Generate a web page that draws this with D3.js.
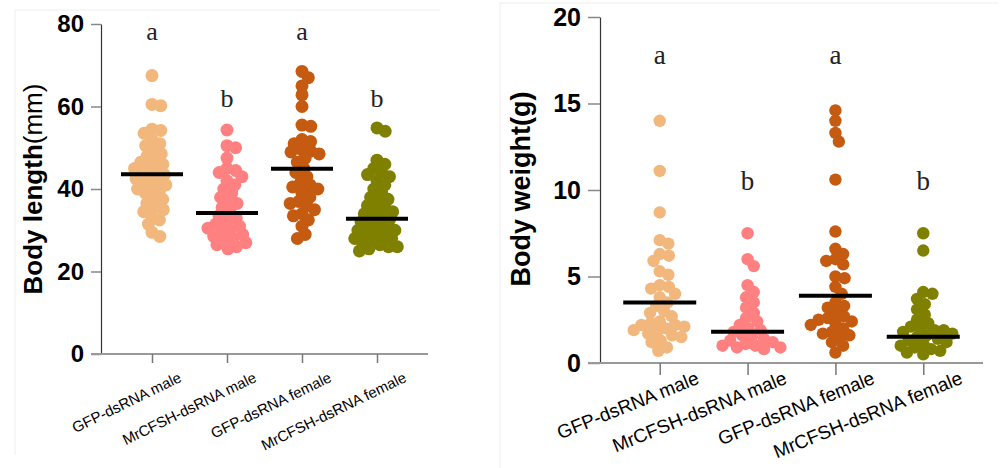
<!DOCTYPE html>
<html>
<head>
<meta charset="utf-8">
<script src="https://cdn.jsdelivr.net/npm/d3@7"></script>
<style>
  body { margin: 0; background: #fff; }
  svg { display: block; }
</style>
</head>
<body>
<svg id="chart" width="1000" height="468"></svg>
<script>
"use strict";

// groups and colours
var groups = ["GFP-dsRNA male", "MrCFSH-dsRNA male", "GFP-dsRNA female", "MrCFSH-dsRNA female"];
var groupColors = ["#F1B77C", "#FF8080", "#C55A11", "#808000"];

// body length (mm)
var lenGfpMale = [67.5, 60.5, 60.2, 54.5, 54.2, 53.5, 52, 51, 50.5, 49.5, 48.5, 48, 47, 46.5, 46, 45.5, 45, 44.5, 44, 43.5, 43, 42.5, 42, 41.5, 41, 40.5, 40, 39.5, 39, 38, 37.5, 36.5, 35.5, 35, 34.5, 33.5, 32.5, 31.5, 29.5, 28.5];
var lenMrMale = [54.3, 50.5, 50, 47.5, 45, 44.5, 44, 43, 42, 41, 40, 39, 38, 37, 36.5, 35.5, 34.5, 33.5, 33, 32, 31.5, 31, 30.5, 30, 29.5, 29, 28.5, 28, 27.5, 27, 26.5, 26, 25.5];
var lenGfpFemale = [68.5, 67, 65, 62.8, 60, 55.5, 55.2, 52, 51.5, 51, 49.5, 49.2, 49, 48.5, 47.5, 46.5, 45, 44, 43, 41.5, 41, 40.5, 40, 39, 38, 37, 36.5, 36, 35, 34, 33.5, 32.5, 31, 29, 28];
var lenMrFemale = [54.8, 54, 47, 46, 45, 44, 43.5, 43, 42, 41, 40, 39, 38, 37.5, 37, 36, 35.5, 35, 34.5, 34, 33.5, 33, 32.5, 32, 31.5, 31, 30.5, 30, 30, 29.5, 29, 28.5, 28, 28, 27.5, 27, 26.5, 26, 26, 25.5, 25];
var lenMeans = [43.6, 34.2, 44.9, 32.8];
var lenLetters = ["a", "b", "a", "b"];
var lenTicks = [0, 20, 40, 60, 80];

// body weight (g)
var wGfpMale = [14, 11.1, 8.7, 7.1, 6.9, 6.3, 6.2, 5.9, 5.3, 5.1, 4.5, 4.4, 4.3, 4.0, 3.8, 3.5, 3.3, 3.0, 2.9, 2.7, 2.4, 2.3, 2.2, 2.2, 2.1, 2.0, 1.9, 1.8, 1.7, 1.6, 1.5, 1.3, 1.2, 0.9, 0.7];
var wMrMale = [7.5, 6.0, 5.6, 4.5, 4.1, 3.8, 3.5, 3.2, 2.9, 2.6, 2.4, 2.2, 2.0, 1.9, 1.8, 1.6, 1.5, 1.4, 1.3, 1.2, 1.1, 1.0, 1.0, 0.9, 0.9, 0.8];
var wGfpFemale = [14.6, 14.0, 13.3, 12.8, 10.6, 7.6, 6.6, 6.3, 6.0, 5.9, 5.7, 5.0, 4.9, 4.4, 4.0, 3.5, 3.3, 3.2, 2.9, 2.7, 2.6, 2.5, 2.4, 2.3, 2.2, 2.0, 1.8, 1.7, 1.6, 1.5, 1.2, 1.0, 0.6];
var wMrFemale = [7.5, 6.5, 4.1, 4.0, 3.7, 3.4, 3.1, 2.8, 2.5, 2.3, 2.1, 2.0, 1.9, 1.9, 1.8, 1.7, 1.6, 1.5, 1.4, 1.3, 1.2, 1.1, 1.0, 0.9, 0.8, 0.7, 0.6, 0.5];
var wMeans = [3.49, 1.81, 3.89, 1.52];
var wLetters = ["a", "b", "a", "b"];
var wTicks = [0, 5, 10, 15, 20];

var svg = d3.select("#chart");

// faint frame lines of the two screenshots
svg.append("path").attr("d", "M15,455V10H440").attr("fill", "none").attr("stroke", "#eeeeee");
svg.append("path").attr("d", "M500,468V3H998").attr("fill", "none").attr("stroke", "#eeeeee");

// simple beeswarm: place each dot as close to the centre as possible
function swarm(values, y, d) {
  var pts = values.map(function(v) { return { v: v, y: y(v), x: 0 }; })
    .sort(function(a, b) { return a.y - b.y; });
  var placed = [];
  pts.forEach(function(p) {
    var cands = [0];
    placed.forEach(function(q) {
      var dy = Math.abs(q.y - p.y);
      if (dy < d) {
        var dx = Math.sqrt(d * d - dy * dy);
        cands.push(q.x + dx, q.x - dx);
      }
    });
    cands.sort(function(a, b) { return Math.abs(a) - Math.abs(b); });
    for (var i = 0; i < cands.length; i++) {
      var ok = placed.every(function(q) {
        var dx = q.x - cands[i], dy = q.y - p.y;
        return dx * dx + dy * dy >= d * d - 0.01;
      });
      if (ok) { p.x = cands[i]; break; }
    }
    placed.push(p);
  });
  return pts;
}

function drawPanel(cfg) {
  var g = svg.append("g");

  var x = d3.scalePoint().domain(groups).range([cfg.left, cfg.right]).padding(0.68);
  var y = d3.scaleLinear().domain(cfg.domain).range([cfg.bottom, cfg.top]);

  // dots
  cfg.series.forEach(function(vals, i) {
    var pts = swarm(vals, y, cfg.r * 2 * cfg.pack);
    g.append("g")
      .selectAll("circle")
      .data(pts)
      .join("circle")
      .attr("cx", function(d) { return x(groups[i]) + d.x; })
      .attr("cy", function(d) { return d.y; })
      .attr("r", cfg.r)
      .attr("fill", groupColors[i]);
  });

  // mean lines
  g.append("g")
    .selectAll("line")
    .data(cfg.means)
    .join("line")
    .attr("x1", function(d, i) { return x(groups[i]) - cfg.meanW / 2; })
    .attr("x2", function(d, i) { return x(groups[i]) + cfg.meanW / 2; })
    .attr("y1", function(d) { return y(d); })
    .attr("y2", function(d) { return y(d); })
    .attr("stroke", "#000")
    .attr("stroke-width", 4);

  // y axis
  var yAxis = g.append("g")
    .attr("transform", "translate(" + cfg.left + ",0)")
    .call(d3.axisLeft(y).tickValues(cfg.ticks).tickSize(cfg.tickLen).tickPadding(7).tickSizeOuter(0));
  yAxis.select(".domain").attr("stroke", "#333").attr("stroke-width", 1.2);
  yAxis.selectAll(".tick line").attr("stroke", "#888").attr("stroke-width", 1.5);
  yAxis.selectAll(".tick text")
    .attr("font-family", "Arial, 'Liberation Sans', sans-serif")
    .attr("font-weight", "bold")
    .attr("font-size", cfg.tickFont)
    .attr("fill", "#000");

  // x axis
  var xAxis = g.append("g")
    .attr("transform", "translate(0," + cfg.bottom + ")")
    .call(d3.axisBottom(x).tickSize(cfg.xTickLen).tickSizeOuter(0));
  xAxis.select(".domain")
    .attr("d", "M" + (cfg.left - cfg.tickLen) + ",0H" + cfg.right)
    .attr("stroke", "#999").attr("stroke-width", 2);
  xAxis.selectAll(".tick line").attr("stroke", "#777").attr("stroke-width", 1.5);
  xAxis.selectAll(".tick text")
    .attr("font-family", "Arial, 'Liberation Sans', sans-serif")
    .attr("font-size", cfg.labelFont)
    .attr("fill", "#000")
    .attr("text-anchor", "end")
    .attr("y", 0).attr("dy", 0)
    .attr("transform", "translate(" + cfg.labelDx + "," + cfg.labelDy + ") rotate(" + cfg.labelAngle + ")");

  // significance letters
  g.append("g")
    .selectAll("text")
    .data(cfg.letters)
    .join("text")
    .attr("x", function(d, i) { return x(groups[i]); })
    .attr("y", function(d, i) { return cfg.letterY[d]; })
    .attr("text-anchor", "middle")
    .attr("font-family", "'Liberation Serif', 'Times New Roman', serif")
    .attr("font-size", cfg.letterFont)
    .attr("fill", "#222")
    .text(function(d) { return d; });

  // y title
  var title = g.append("text")
    .attr("transform", "translate(" + cfg.titleX + "," + cfg.titleY + ") rotate(-90)")
    .attr("text-anchor", "middle")
    .attr("font-family", "Arial, 'Liberation Sans', sans-serif")
    .attr("font-weight", "bold")
    .attr("font-size", cfg.titleFont)
    .attr("fill", "#000");
  title.append("tspan").text(cfg.title[0]);
  title.append("tspan").attr("font-weight", cfg.title[2]).text(cfg.title[1]);
}

drawPanel({
  left: 101, right: 428, top: 24, bottom: 354,
  domain: [0, 80], ticks: lenTicks,
  series: [lenGfpMale, lenMrMale, lenGfpFemale, lenMrFemale],
  means: lenMeans, letters: lenLetters, letterY: { a: 40, b: 107 },
  r: 6.5, pack: 0.68, meanW: 62,
  tickLen: 10, xTickLen: 9, tickFont: 24,
  labelFont: 15, labelAngle: -26, labelDx: 30, labelDy: 27,
  letterFont: 26,
  title: ["Body length", "(mm)", "normal"], titleFont: 26,
  titleX: 42, titleY: 189
});

drawPanel({
  left: 600, right: 983, top: 17, bottom: 363,
  domain: [0, 20], ticks: wTicks,
  series: [wGfpMale, wMrMale, wGfpFemale, wMrFemale],
  means: wMeans, letters: wLetters, letterY: { a: 64, b: 190 },
  r: 6.2, pack: 0.75, meanW: 73,
  tickLen: 12, xTickLen: 12, tickFont: 25,
  labelFont: 19, labelAngle: -22, labelDx: 40, labelDy: 20,
  letterFont: 27,
  title: ["Body weight(g)", "", "bold"], titleFont: 27,
  titleX: 530, titleY: 189
});
</script>
</body>
</html>
